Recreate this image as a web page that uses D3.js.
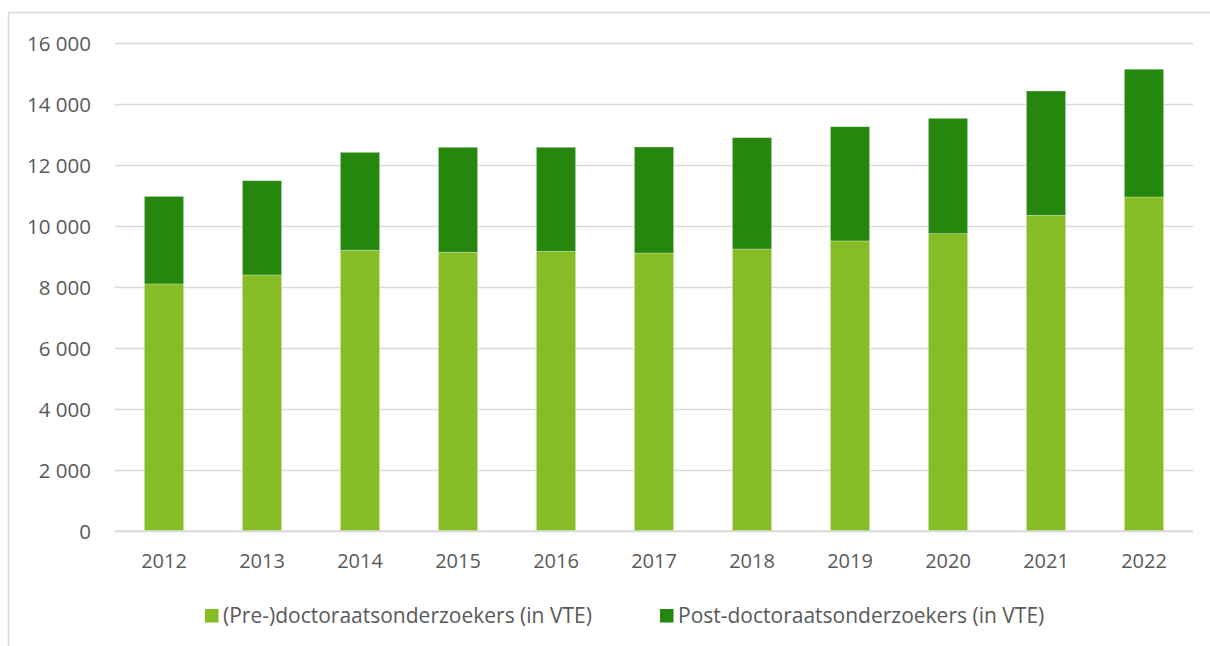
<!DOCTYPE html>
<html>
<head>
<meta charset="utf-8">
<script src="https://cdn.jsdelivr.net/npm/d3@7"></script>
<style>
	body { margin: 0; background: #fff; }
	text { font-family: "Open Sans", "Noto Sans", sans-serif; fill: #595959; }
</style>
</head>
<body>
<svg id="chart" width="1210" height="646"></svg>
<script>

// data (VTE)
var years = ["2012","2013","2014","2015","2016","2017","2018","2019","2020","2021","2022"];
var preDoc = [8100, 8395, 9205, 9140, 9170, 9115, 9245, 9510, 9750, 10350, 10950];
var postDoc = [2870, 3090, 3210, 3440, 3410, 3475, 3650, 3745, 3780, 4075, 4190];
var yTicks = [0, 2000, 4000, 6000, 8000, 10000, 12000, 14000, 16000];

var seriesNames = ["(Pre-)doctoraatsonderzoekers (in VTE)", "Post-doctoraatsonderzoekers (in VTE)"];
var seriesColors = ["#86bc25", "#26870e"];


var svg = d3.select("#chart");

// outer chart border (only top + left fall inside the window)
svg.append("rect")
	.attr("x", 8.5).attr("y", 12.5)
	.attr("width", 1400).attr("height", 800)
	.attr("fill", "none")
	.attr("stroke", "#d9d9d9")
	.attr("stroke-width", 1.5);

var plot = { left: 115, right: 1193, top: 43, bottom: 531 };

var x = d3.scaleBand()
	.domain(years)
	.range([plot.left, plot.right])
	.paddingInner(0.6)
	.paddingOuter(0.3);

var y = d3.scaleLinear()
	.domain([0, 16000])
	.range([plot.bottom, plot.top]);

// gridlines + y labels, through an axis so the ticks come from the scale
var yAxis = d3.axisLeft(y)
	.tickValues(yTicks)
	.tickSize(-(plot.right - plot.left))
	.tickPadding(24)
	.tickFormat(function(d) { return d3.format(",")(d).replace(",", " "); });

var gy = svg.append("g")
	.attr("transform", "translate(" + plot.left + ",0)")
	.call(yAxis);
gy.select(".domain").remove();
gy.selectAll(".tick line")
	.attr("stroke", "#d9d9d9")
	.attr("stroke-width", 1.5);
gy.selectAll(".tick text")
	.attr("x", -24)
	.attr("dy", "0.35em")
	.style("font-size", "20.5px");

// stacked bars
var rows = years.map(function(yr, i) {
	return { year: yr, pre: preDoc[i], post: postDoc[i] };
});
var stack = d3.stack().keys(["pre", "post"]);
var layers = stack(rows);

svg.append("g").selectAll("g")
	.data(layers)
	.enter()
	.append("g")
	.attr("fill", function(d, i) { return seriesColors[i]; })
	.selectAll("rect")
	.data(function(d) { return d; })
	.enter()
	.append("rect")
	.attr("x", function(d) { return x(d.data.year); })
	.attr("width", x.bandwidth())
	.attr("y", function(d) { return y(d[1]); })
	.attr("height", function(d) { return y(d[0]) - y(d[1]); })
	.attr("stroke", "#ffffff")
	.attr("stroke-opacity", 0.35)
	.attr("stroke-width", 0.75);

// baseline redrawn over the bars' bottom
svg.append("line")
	.attr("x1", plot.left).attr("x2", plot.right)
	.attr("y1", y(0)).attr("y2", y(0))
	.attr("stroke", "#d9d9d9")
	.attr("stroke-width", 1.5);

// x labels
var xAxis = d3.axisBottom(x).tickSize(0).tickPadding(23);
var gx = svg.append("g")
	.attr("transform", "translate(0," + plot.bottom + ")")
	.call(xAxis);
gx.select(".domain").remove();
gx.selectAll(".tick text").style("font-size", "20px");

// legend
var legendX = [205, 660];
var lg = svg.append("g").selectAll("g")
	.data(seriesNames)
	.enter()
	.append("g")
	.attr("transform", function(d, i) { return "translate(" + legendX[i] + ",609)"; });
lg.append("rect")
	.attr("width", 13.5).attr("height", 13.5)
	.attr("fill", function(d, i) { return seriesColors[i]; });
lg.append("text")
	.attr("x", 18)
	.attr("y", 6.5)
	.attr("dy", "0.35em")
	.style("font-size", "21px")
	.text(function(d) { return d; });

</script>
</body>
</html>
